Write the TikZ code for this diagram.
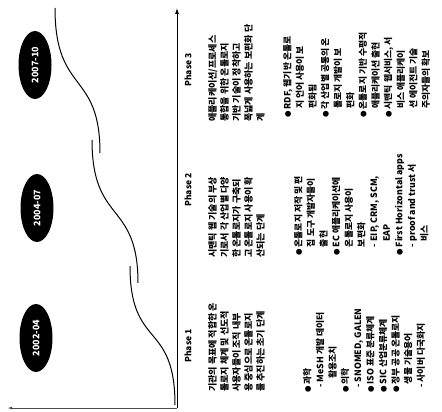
\documentclass[tikz,border=0pt]{standalone}
\usepackage{fontspec}
\setmainfont{Noto Sans CJK KR}
\usetikzlibrary{shapes.geometric,arrows.meta}
\newcommand\bdot{{\fontsize{6.5}{6}\selectfont ●}\ }
\begin{document}
\begin{tikzpicture}[x=1pt,y=-1pt,
  date/.style={ellipse,fill=black,text=white,minimum width=68pt,minimum height=33pt,inner sep=0pt,rotate=90,font=\bfseries\fontsize{9}{10}\selectfont},
  phase/.style={rotate=90,font=\bfseries\fontsize{8.5}{10}\selectfont,inner sep=0pt},
  desc/.style={rotate=90,anchor=north west,align=left,inner sep=0pt,font=\bfseries\fontsize{9}{12}\selectfont},
  blist/.style={rotate=90,anchor=north west,align=left,inner sep=0pt,font=\bfseries\fontsize{8.8}{12.6}\selectfont},
  curve/.style={line width=1pt},
]
\path[use as bounding box] (0,0) rectangle (442,412);

% dates
\node[date] (d1) at (36,338) {2002-04};
\node[date] (d2) at (37,208) {2004-07};
\node[date] (d3) at (35,65) {2007-10};

% axes
\coordinate (o) at (177,408);
\coordinate (t) at (177,8);
\coordinate (l) at (8,408);
\draw[line width=0.9pt,-{Latex[length=6pt,width=4pt]}] (o) -- (t);
\draw[line width=0.5pt,black!70,-{Latex[length=4pt,width=3pt]}] (o) -- (l);

% curves
\coordinate (a1) at (55,8);  \coordinate (a2) at (100,153);
\coordinate (b1) at (92,140); \coordinate (b2) at (138,283);
\coordinate (c1) at (130,266); \coordinate (c2) at (175,405);
\draw[curve] (a1) .. controls (55,95) and (100,70) .. (a2);
\draw[curve] (b1) .. controls (92,225) and (138,200) .. (b2);
\draw[curve] (c1) .. controls (130,350) and (175,320) .. (c2);

% phase labels
\node[phase] (p1) at (188,346) {Phase 1};
\node[phase] (p2) at (188,190) {Phase 2};
\node[phase] (p3) at (188,70) {Phase 3};

% Phase 1
\node[desc] (t1) at (208,392) {기관의 목표에 적합한 온\\톨로지 체계 및 선도적\\사용자들이 조직 내부\\용 중심으로 온톨로지\\를 추진하는 초기 단계};
\node[blist] (b1l) at (303,393) {\bdot 과학\\\hspace*{0.6em}- MeSH 개발 데이터\\\hspace*{1.6em}활용조치\\\bdot 의학\\\hspace*{0.6em}- SNOMED, GALEN\\\bdot ISO 표준 분류체계\\\bdot SIC 산업분류체계\\\bdot 정부 공공 온톨로지\\\hspace*{1em}생물 기술용어\\\hspace*{0.6em}- 사이버 다국화지};

% Phase 2
\node[desc] (t2) at (208,258) {시맨틱 웹 기술의 부상\\기로서 각 산업별 다양\\한 온톨로지가 구축되\\고 온톨로지 사용이 확\\산되는 단계};
\node[blist] (b2l) at (294,256) {\bdot 온톨로지 저작 및 편\\\hspace*{1em}집 도구 개발자들이\\\hspace*{1em}출현\\\bdot EC 애플리케이션에\\\hspace*{1em}온톨로지 사용이\\\hspace*{1em}보편화\\\hspace*{1em}- EIP, CRM, SCM,\\\hspace*{1.6em}EAP\\\bdot First Horizontal apps\\\hspace*{1em}- proof and trust 서\\\hspace*{1.6em}비스};

% Phase 3
\node[desc] (t3) at (208,122) {애플리케이션/프로세스\\통합을 위한 온톨로지\\기반 기술이 정착하고\\폭넓게 사용하는 보편화 단\\계};
\node[blist] (b3l) at (283,118) {\bdot RDF, 웹기반 온톨로\\\hspace*{1em}지 언어 사용이 보\\\hspace*{1em}편화됨\\\bdot 각 산업별 공통의 온\\\hspace*{1em}톨로지 개발이 보\\\hspace*{1em}편화\\\bdot 온톨로지 기반 수평적\\\hspace*{1em}애플리케이션 출현\\\bdot 시맨틱 웹서비스, 서\\\hspace*{1em}비스 애플리케이\\\hspace*{1em}션 에이전트 기술\\\hspace*{1em}주의자들의 확보};
\end{tikzpicture}
\end{document}
